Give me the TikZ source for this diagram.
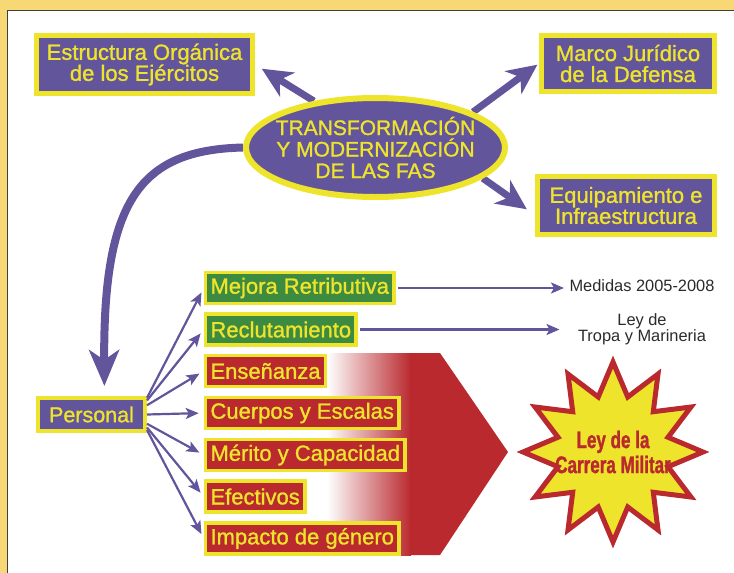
\documentclass[tikz,border=0pt]{standalone}
\usepackage{fontspec}
\setmainfont{Liberation Sans}
\newfontfamily\heavy{Liberation Sans}[FakeBold=1.2]
\newfontfamily\condfont{Liberation Sans Bold}[FakeStretch=0.71,FakeBold=1.2]
\usepackage{tikz}
\usetikzlibrary{calc,arrows.meta,shapes.geometric,backgrounds}

\definecolor{purp}{RGB}{99,85,155}
\definecolor{ylw}{RGB}{238,228,44}
\definecolor{grn}{RGB}{61,139,64}
\definecolor{rd}{RGB}{185,41,46}
\definecolor{strip}{RGB}{247,216,116}
\definecolor{txtgray}{RGB}{43,43,43}

\begin{document}
\begin{tikzpicture}[x=1pt,y=-1pt,
    tbox/.style={draw=ylw,fill=purp,text=ylw,line width=5pt,inner sep=0pt,align=center,font=\heavy\fontsize{22}{21}\selectfont},
    ibox/.style={draw=ylw,text=ylw,line width=3.5pt,anchor=west,inner xsep=5pt,minimum height=31pt,font=\heavy\fontsize{22}{21}\selectfont},
    big/.style={draw=purp,line width=7pt,-{Stealth[length=30pt,width=28pt,inset=9pt]}},
    thin/.style={draw=purp,line width=2.2pt,-{Stealth[length=13pt,width=11pt,inset=3pt]}},
    note/.style={text=txtgray,align=center,font=\fontsize{16.4}{16}\selectfont}]
    \useasboundingbox (0,0) rectangle (734,573);

    \begin{scope}[on background layer]
        \fill[strip] (0,0) rectangle (734,573);
        \fill[white] (8,11) rectangle (734,573);
        \draw[black!75,line width=1.2pt] (7.6,573) |- (734,10.6);
    \end{scope}

    \shade[left color=white,right color=rd] (327,353) rectangle (411,555);
    \fill[rd] (410,353) -- (440,353) -- (508,452) -- (440,555) -- (410,555) -- cycle;

    \node[tbox,minimum width=216pt,minimum height=58pt] (estr) at (144.5,64.5) {Estructura Orgánica\\de los Ejércitos};
    \node[tbox,minimum width=173pt,minimum height=56pt] (marco) at (628,63.5) {Marco Jurídico\\de la Defensa};
    \node[tbox,minimum width=177pt,minimum height=58pt] (equip) at (626,205.5) {Equipamiento e\\Infraestructura};
    \node[tbox,ellipse,line width=6pt,minimum width=259pt,minimum height=99pt,inner xsep=-20pt,
        font=\heavy\fontsize{21}{21.5}\selectfont] (trans) at (375.5,147.5) {TRANSFORMACIÓN\\Y MODERNIZACIÓN\\DE LAS FAS};
    \node[tbox,line width=4pt,minimum width=107pt,minimum height=33pt,font=\heavy\fontsize{21.5}{21}\selectfont] (pers) at (91.5,414.5) {Personal};

    \begin{scope}[on background layer]
        \draw[big,shorten >=8pt] (trans.143) -- (estr.east);
        \draw[big,shorten >=2pt] (trans.20) -- (marco.west);
        \draw[big,shorten >=10pt] (trans.344) -- (equip.186);
        \draw[big,line width=8pt,-{Stealth[length=36pt,width=30pt,inset=10pt]},shorten >=10pt]
            (trans.west) .. controls (140,150) and (103,200) .. (pers.55);
    \end{scope}

    \foreach \n/\y/\c/\t in {mej/288/grn/Mejora Retributiva,rec/329.5/grn/Reclutamiento,
        ens/371/rd/Enseñanza,cue/413/rd/Cuerpos y Escalas,mer/455/rd/Mérito y Capacidad,
        efe/496.5/rd/Efectivos,imp/538.5/rd/Impacto de género}
        \node[ibox,fill=\c] (\n) at (203.75,\y) {\t};

    \foreach \n/\f in {mej/0.05,rec/0.12,ens/0.25,cue/0.5,mer/0.75,efe/0.85,imp/0.92}
        \draw[thin,shorten >=5pt] ($(pers.north east)!\f!(pers.south east)$) -- (\n.west);

    \node[note,anchor=west] (med) at (566,286) {Medidas 2005-2008};
    \node[note] (tropa) at (642,329) {Ley de\\Tropa y Marineria};
    \draw[thin,shorten <=2pt,shorten >=2pt] (mej.east) -- (mej.east -| med.west);
    \draw[thin,shorten <=2pt,shorten >=15pt] (rec.east) -- (rec.east -| tropa.west);

    \node[star,star points=12,star point ratio=1.58,minimum size=180pt,inner sep=0pt,
        draw=rd,fill=ylw,line width=5pt] (ley) at (613,452) {};
    \node[text=rd,align=center,font=\condfont\fontsize{24}{25}\selectfont] (leytxt) at (ley) {Ley de la\\Carrera Militar};
\end{tikzpicture}
\end{document}
